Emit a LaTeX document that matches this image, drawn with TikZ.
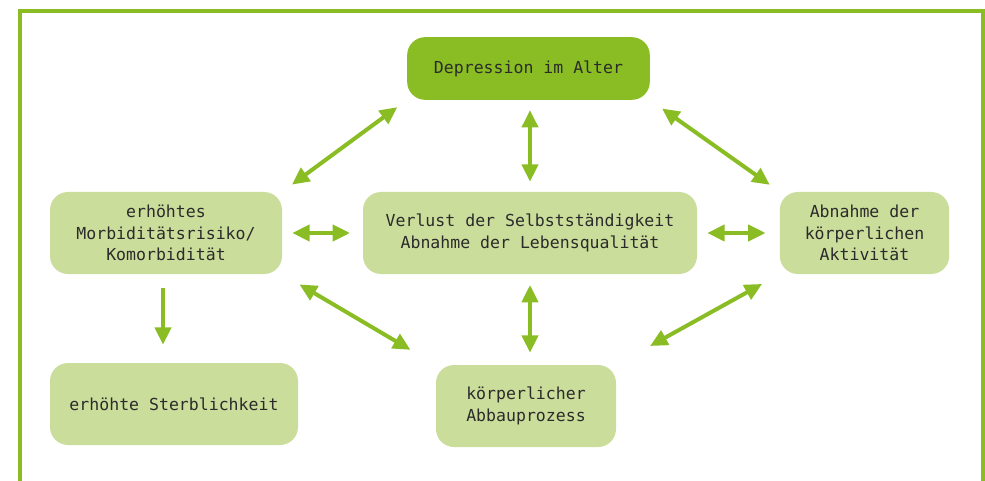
\documentclass[tikz,border=0pt]{standalone}
\usepackage{fontspec}
\setmonofont{DejaVu Sans Mono}
\usetikzlibrary{arrows.meta}
\definecolor{hellgruen}{HTML}{CBDD9B}
\definecolor{gruen}{HTML}{8ABD24}
\definecolor{schrift}{HTML}{2B2B2B}
\begin{document}
\begin{tikzpicture}[x=0.75pt,y=-0.75pt,
    kasten/.style={fill=hellgruen,rounded corners=13.5pt,minimum height=61.5pt,
      align=center,inner sep=0pt,text=schrift,
      font=\ttfamily\fontsize{12.4}{16.2}\selectfont},
    pfeil/.style={gruen,line width=3pt,{Triangle[length=13pt,width=12pt]}-{Triangle[length=13pt,width=12pt]}},
    einpfeil/.style={gruen,line width=3pt,-{Triangle[length=13pt,width=12pt]}}]
        \useasboundingbox (0,0) rectangle (985,481);
        % Rahmen
        \draw[gruen,line width=3pt] (20,520) -- (20,11) -- (983,11) -- (983,520);
        % Kaesten
        \node[kasten,fill=gruen,minimum width=182pt,minimum height=47pt] (dep) at (528.5,68.5) {Depression im Alter};
        \node[kasten,minimum width=174pt] (morb) at (166,233) {erhöhtes\\Morbiditätsrisiko/\\Komorbidität};
        \node[kasten,minimum width=250.5pt] (verl) at (530,233) {Verlust der Selbstständigkeit\\Abnahme der Lebensqualität};
        \node[kasten,minimum width=127pt] (aktiv) at (864.5,233) {Abnahme der\\körperlichen\\Aktivität};
        \node[kasten,minimum width=186pt] (sterb) at (174,404) {erhöhte Sterblichkeit};
        \node[kasten,minimum width=135pt] (abbau) at (526,406) {körperlicher\\Abbauprozess};
        % Pfeile
        \draw[pfeil,shorten <=9pt,shorten >=9pt] (morb.north east) -- (dep.south west);
        \draw[pfeil,shorten <=7.5pt,shorten >=7.5pt] (dep.south -| verl.north) -- (verl.north);
        \draw[pfeil,shorten <=11pt,shorten >=9pt] (dep.south east) -- (aktiv.north west);
        \draw[pfeil,shorten <=7.5pt,shorten >=9.5pt] (morb.east) -- (verl.west);
        \draw[pfeil,shorten <=7.5pt,shorten >=10.5pt] (verl.east) -- (aktiv.west);
        \draw[einpfeil,shorten <=10.5pt,shorten >=13.5pt] ([xshift=-2.25pt]morb.south) -- ([xshift=-2.25pt]morb.south |- sterb.north);
        \draw[pfeil,shorten <=15pt,shorten >=22pt] (morb.south east) -- (abbau.north west);
        \draw[pfeil,shorten <=8pt,shorten >=9pt] (verl.south) -- (verl.south |- abbau.north);
        \draw[pfeil,shorten <=15pt,shorten >=29pt] (aktiv.south west) -- (abbau.north east);
\end{tikzpicture}
\end{document}
